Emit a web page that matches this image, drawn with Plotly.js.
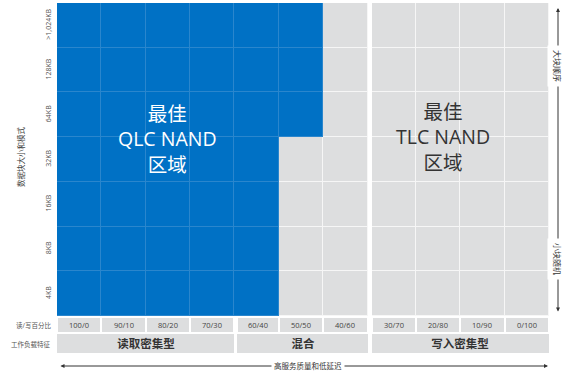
<!DOCTYPE html>
<html>
<head>
<meta charset="utf-8">
<script src="https://cdn.plot.ly/plotly-3.0.1.min.js"></script>
<style>html,body{margin:0;padding:0;background:#fff;}#chart{width:571px;height:373px;}</style>
</head>
<body>
<div id="chart"></div>
<script>
// ---- data ----
const sizeLabels = ['4KB', '8KB', '16KB', '32KB', '64KB', '128KB', '>1,024KB'];
const ratioLabels = ['100/0', '90/10', '80/20', '70/30', '60/40', '50/50', '40/60', '30/70', '20/80', '10/90', '0/100'];
// number of ratio columns (from 100/0) that fall in the QLC zone, per block size row
const qlcColumnsPerRow = [5, 5, 5, 5, 6, 6, 6];
const groupLabels = ['读取密集型', '混合', '写入密集型'];
const groupSpans = [4, 3, 4];
const yAxisTitle = '数据块大小和模式';
const rowLabelRatio = '读/写百分比';
const rowLabelWorkload = '工作负载特征';
const qlcText = '最佳<br>QLC NAND<br>区域';
const tlcText = '最佳<br>TLC NAND<br>区域';
const bottomText = '高服务质量和低延迟';
const topRightText = '大块顺序';
const bottomRightText = '小块随机';

// ---- layout helpers ----
const FONT = 'Open Sans, Noto Sans CJK SC, sans-serif';
const nCols = ratioLabels.length;
const gapCol = 7;            // wide white gap before 30/70
const g = 0.09;              // width of wide gap in column units
const h = 0.068;             // small gap between group blocks in label rows
const BLUE = '#0071c5', GREY = '#dddedf';

const mainEdges = [];
for (let i = 0; i <= gapCol; i++) mainEdges.push(i);
for (let i = gapCol; i <= nCols; i++) mainEdges.push(i + g);
const mainZ = qlcColumnsPerRow.map(n => {
  const row = [];
  for (let c = 0; c < nCols; c++) {
    if (c === gapCol) row.push(null);
    row.push(c < n ? 1 : 0);
  }
  return row;
});
const yEdges = sizeLabels.map((_, i) => i).concat([sizeLabels.length]);

const firstGroupEnd = groupSpans[0];
const ratioEdges = [];
const ratioZ = [], ratioText = [];
for (let i = 0; i <= firstGroupEnd; i++) ratioEdges.push(i);
ratioEdges.push(firstGroupEnd + h);
for (let i = firstGroupEnd + 1; i <= gapCol; i++) ratioEdges.push(i);
for (let i = gapCol; i <= nCols; i++) ratioEdges.push(i + g);
for (let c = 0; c < nCols; c++) {
  if (c === firstGroupEnd || c === gapCol) { ratioZ.push(null); ratioText.push(''); }
  ratioZ.push(0); ratioText.push(ratioLabels[c]);
}
const groupEdges = [0, groupSpans[0], groupSpans[0] + h, groupSpans[0] + groupSpans[1], groupSpans[0] + groupSpans[1] + g, nCols + g];
const groupZ = [0, null, 0, null, 0];
const groupText = [groupLabels[0], '', groupLabels[1], '', groupLabels[2]];

const ratioY = [-0.358, -0.045];
const groupY = [-0.828, -0.403];

const traces = [
  { type: 'heatmap', x: mainEdges, y: yEdges, z: mainZ, zmin: 0, zmax: 1,
    colorscale: [[0, '#f6f6f6'], [1, '#2a86cd']], showscale: false, hoverinfo: 'skip' },
  { type: 'heatmap', x: mainEdges, y: yEdges, z: mainZ, zmin: 0, zmax: 1, xgap: 1, ygap: 1,
    colorscale: [[0, GREY], [1, BLUE]], showscale: false, hoverinfo: 'skip' },
  { type: 'heatmap', x: ratioEdges, y: ratioY, z: [ratioZ], text: [ratioText], texttemplate: '%{text}',
    textfont: { family: FONT, size: 7.5, color: '#444' }, xgap: 2, zmin: 0, zmax: 1,
    colorscale: [[0, GREY], [1, GREY]], showscale: false, hoverinfo: 'skip' },
  { type: 'heatmap', x: groupEdges, y: groupY, z: [groupZ], text: [groupText], texttemplate: '%{text}',
    textfont: { family: FONT, size: 11.5, color: '#333', weight: 'bold' }, zmin: 0, zmax: 1,
    colorscale: [[0, GREY], [1, GREY]], showscale: false, hoverinfo: 'skip' }
];

const ARROW = '#333';
const xR = (558 - 57) / 492;
const py = p => (353 - p) / 350;
const px = p => (p - 57) / 492;
const C = { xanchor: 'center', yanchor: 'middle', xref: 'paper', yref: 'paper', showarrow: false };

const layout = {
  width: 571, height: 373, autosize: false,
  margin: { l: 57, r: 22, t: 3, b: 20, pad: 0 },
  paper_bgcolor: '#fff', plot_bgcolor: '#fff',
  font: { family: FONT, color: '#444' },
  showlegend: false,
  xaxis: { range: [0, nCols + g], showticklabels: false, showgrid: false, zeroline: false, ticks: '', showline: false, fixedrange: true },
  yaxis: { range: [-0.828, 7], tickvals: sizeLabels.map((_, i) => i + 0.5), ticktext: sizeLabels,
    tickangle: -90, tickfont: { family: FONT, size: 7, color: '#555' }, showgrid: false, zeroline: false,
    ticks: '', showline: false, fixedrange: true, ticklabelstandoff: 4 },
  annotations: [
    // arrows first so the labels (with white background) sit on top
    { text: '', x: px(548), y: py(366), xref: 'paper', yref: 'paper', showarrow: true, ax: -(548 - 59), ay: 0,
      arrowhead: 2, startarrowhead: 2, arrowside: 'end+start', arrowsize: 0.8, startarrowsize: 0.8, arrowwidth: 1, arrowcolor: ARROW },
    { text: '', x: xR, y: py(8), xref: 'paper', yref: 'paper', showarrow: true, ax: 0, ay: 313 - 8,
      arrowhead: 2, startarrowhead: 2, arrowside: 'end+start', arrowsize: 0.8, startarrowsize: 0.8, arrowwidth: 1, arrowcolor: ARROW },
    { text: qlcText, x: 2.5, y: 3.96, xref: 'x', yref: 'y', showarrow: false,
      font: { family: FONT, size: 19.5, color: '#fff' } },
    { text: tlcText, x: 8.7, y: 4.0, xref: 'x', yref: 'y', showarrow: false,
      font: { family: FONT, size: 19.5, color: '#333' } },
    Object.assign({ text: yAxisTitle, x: px(21), y: py(157), textangle: -90,
      font: { family: FONT, size: 7.5, color: '#444' } }, C),
    Object.assign({ text: rowLabelRatio, x: px(53), y: py(325),
      font: { family: FONT, size: 6.5, color: '#555' } }, C, { xanchor: 'right' }),
    Object.assign({ text: rowLabelWorkload, x: px(53), y: py(344),
      font: { family: FONT, size: 6.5, color: '#555' } }, C, { xanchor: 'right' }),
    Object.assign({ text: bottomText, x: px(308), y: py(366), bgcolor: '#fff', borderpad: 2,
      font: { family: FONT, size: 7.5, color: '#333' } }, C),
    Object.assign({ text: topRightText, x: xR, y: py(66), textangle: 90, bgcolor: '#fff', borderpad: 4,
      font: { family: FONT, size: 8, color: '#333' } }, C),
    Object.assign({ text: bottomRightText, x: xR, y: py(259), textangle: 90, bgcolor: '#fff', borderpad: 4,
      font: { family: FONT, size: 8, color: '#333' } }, C)
  ]
};

Plotly.newPlot('chart', traces, layout, { staticPlot: true, displayModeBar: false });
</script>
</body>
</html>
